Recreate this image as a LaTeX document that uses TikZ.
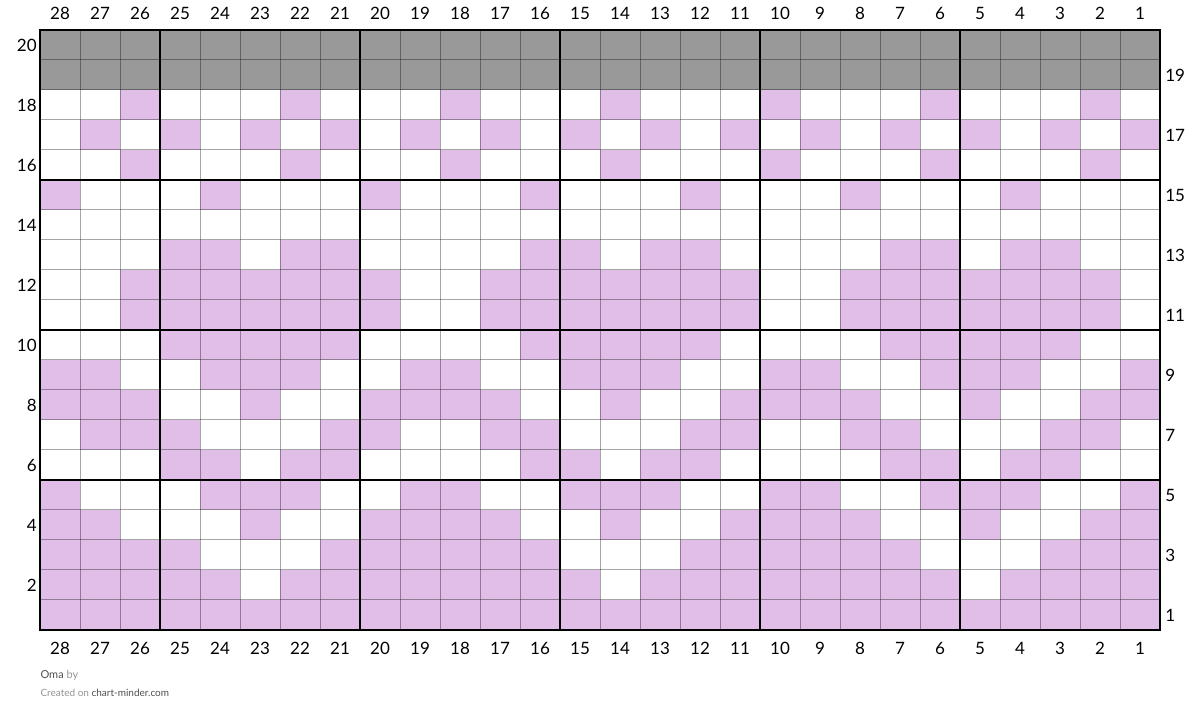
\documentclass[tikz,border=0pt]{standalone}
\usepackage{fontspec}
\setmainfont{Lato}
\usepackage{xcolor}
\usepackage{tikz}
\definecolor{puntolila}{RGB}{225,190,231}
\definecolor{filagris}{RGB}{153,153,153}
\definecolor{pieoscuro}{RGB}{80,80,80}
\definecolor{pieclaro}{RGB}{150,150,150}

\begin{document}
\begin{tikzpicture}[x=40pt, y=30pt, line width=1pt,
    numero/.style={inner sep=0pt, font=\fontsize{17}{20}\selectfont, text=black}]
    \useasboundingbox (0,-3.1) rectangle (30,21);
    \fill[white] (0,-3.1) rectangle (30,21);
    % filas 19 y 20 (grises)
    \fill[filagris] (1,18) rectangle (29,20);
    % puntos lila: fila/columnas
    \foreach \r/\cs in {1/{1,...,28},
        2/{28,27,26,25,24,22,21,20,19,18,17,16,15,13,12,11,10,9,8,7,6,4,3,2,1},
        3/{28,27,26,25,21,20,19,18,17,16,12,11,10,9,8,7,3,2,1},
        4/{28,27,23,20,19,18,17,14,11,10,9,8,5,2,1},
        5/{28,24,23,22,19,18,15,14,13,10,9,6,5,4,1},
        6/{25,24,22,21,16,15,13,12,7,6,4,3},
        7/{27,26,25,21,20,17,16,12,11,8,7,3,2},
        8/{28,27,26,23,20,19,18,17,14,11,10,9,8,5,2,1},
        9/{28,27,24,23,22,19,18,15,14,13,10,9,6,5,4,1},
        10/{25,24,23,22,21,16,15,14,13,12,7,6,5,4,3},
        11/{26,25,24,23,22,21,20,17,16,15,14,13,12,11,8,7,6,5,4,3,2},
        12/{26,25,24,23,22,21,20,17,16,15,14,13,12,11,8,7,6,5,4,3,2},
        13/{25,24,22,21,16,15,13,12,7,6,4,3},
        15/{28,24,20,16,12,8,4},
        16/{26,22,18,14,10,6,2},
        17/{27,25,23,21,19,17,15,13,11,9,7,5,3,1},
        18/{26,22,18,14,10,6,2}}{
        \foreach \c in \cs {\fill[puntolila] ({29-\c},{\r-1}) rectangle ++(1,1);}
    }
    % rejilla fina
    \foreach \x in {1,...,29} \draw[black,opacity=0.35] (\x,0)--(\x,20);
    \foreach \y in {0,...,20} \draw[black,opacity=0.35] (1,\y)--(29,\y);
    % lineas gruesas cada 5 puntos
    \foreach \x in {1,4,9,14,19,24,29} \draw[line width=2pt] (\x,0)--(\x,20);
    \foreach \y in {0,5,10,15,20} \draw[line width=2pt] (1,\y)--(29,\y);
    \draw[line width=2.5pt] (1,0) rectangle (29,20);
    % numeros de columna
    \foreach \c in {1,...,28}{
        \node[numero] (arriba\c) at ({29.5-\c},20.55) {\c};
        \node[numero] (abajo\c) at ({29.5-\c},-0.6) {\c};
    }
    % numeros de fila (pares a la izq., impares a la der.)
    \foreach \r in {2,4,...,20} \node[numero,anchor=east] (izq\r) at (0.93,{\r-0.5}) {\r};
    \foreach \r in {1,3,...,19} \node[numero,anchor=west] (der\r) at (29.12,{\r-0.5}) {\r};
    % pie
    \node[anchor=west,inner sep=0pt,font=\fontsize{11}{13}\selectfont] (titulo) at (1,-1.5)
        {\textcolor{pieoscuro}{Oma} \textcolor{pieclaro}{by}};
    \node[anchor=west,inner sep=0pt,font=\fontsize{10}{12}\selectfont] (credito) at (1,-2.08)
        {\textcolor{pieclaro}{Created on} \textcolor{pieoscuro}{chart-minder.com}};
\end{tikzpicture}
\end{document}
